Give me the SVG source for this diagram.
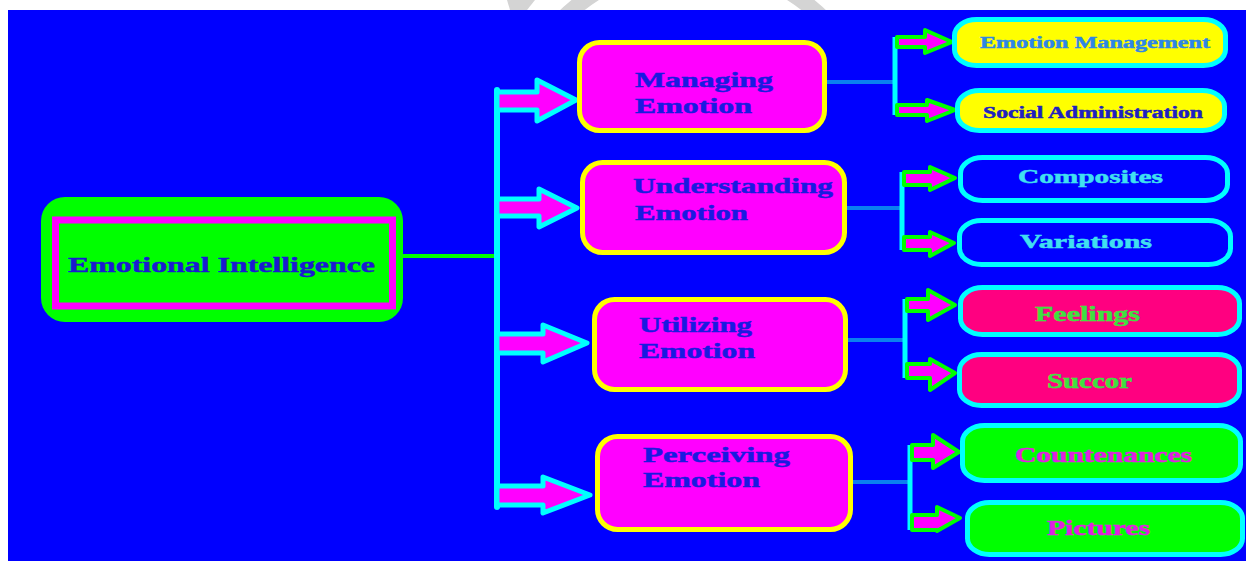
<svg xmlns="http://www.w3.org/2000/svg" width="1246" height="561" viewBox="0 0 1246 561">
<style>
text{font-family:"Liberation Serif","Times New Roman",serif;font-weight:bold;stroke-width:0.5}
.mid{fill:#FF00FF;stroke:#FFFF00;stroke-width:5}
.midt{font-size:22px;fill:#1A1AE0;stroke:#1A1AE0}
.leaf{stroke:#00FFFF;stroke-width:5}
.big{fill:#FF00FF;stroke:#00FFFF;stroke-width:5;stroke-linejoin:round}
.small{fill:#FF00FF;stroke:#00FF00;stroke-width:4;stroke-linejoin:round}
.bl{stroke:#0A80F0;stroke-width:4;fill:none}
.cy{stroke:#00FFFF;stroke-width:5;fill:none}
</style>
<rect x="0" y="0" width="1246" height="561" fill="#FFFFFF"/>
<g id="watermark" fill="#D4D4D4">
<polygon points="507,0 535,0 527,10 510,10"/>
<circle cx="693" cy="150" r="185" fill="none" stroke="#D4D4D4" stroke-width="16"/>
</g>
<rect x="8" y="10" width="1238" height="551" fill="#0000FF"/>
<g id="connectors">
<line x1="403" y1="256" x2="497" y2="256" stroke="#00FF00" stroke-width="4"/>
<line x1="497" y1="90" x2="497" y2="507" stroke="#00FFFF" stroke-width="6" stroke-linecap="round"/>
<polygon class="big" points="497,92 537,92 537,80 576,100 537,121 537,110 497,110"/>
<polygon class="big" points="497,199 539,199 539,189 577,208 539,227 539,216 497,216"/>
<polygon class="big" points="497,334 543,334 543,325 587,343 543,362 543,353 497,353"/>
<polygon class="big" points="497,486 543,486 543,477 590,495 543,513 543,505 497,505"/>
<line class="bl" x1="827" y1="82" x2="895" y2="82"/>
<line class="bl" x1="847" y1="208" x2="902" y2="208"/>
<line class="bl" x1="848" y1="340" x2="905" y2="340"/>
<line class="bl" x1="853" y1="482" x2="910" y2="482"/>
<line class="cy" x1="895" y1="37" x2="895" y2="115"/>
<line class="cy" x1="902" y1="172" x2="902" y2="250"/>
<line class="cy" x1="905" y1="299" x2="905" y2="378"/>
<line class="cy" x1="910" y1="445" x2="910" y2="530"/>
<polygon class="small" points="897,37 925,37 925,30 952,42 925,53 925,47 897,47"/>
<polygon class="small" points="897,105 927,105 927,100 955,110 927,121 927,115 897,115"/>
<polygon class="small" points="904,172 930,172 930,167 955,178 930,190 930,185 904,185"/>
<polygon class="small" points="904,237 930,237 930,232 954,243 930,256 930,250 904,250"/>
<polygon class="small" points="907,299 928,299 928,290 955,305 928,320 928,311 907,311"/>
<polygon class="small" points="907,364 930,364 930,359 955,373 930,390 930,378 907,378"/>
<polygon class="small" points="912,445 933,445 933,435 959,452 933,468 933,460 912,460"/>
<polygon class="small" points="912,515 937,515 937,507 960,518 937,531 937,530 912,530"/>
</g>
<g id="emotional-intelligence">
<rect x="41" y="197" width="362" height="125" rx="24" fill="#00FF00"/>
<rect x="55.5" y="220" width="337" height="86" fill="none" stroke="#FF00FF" stroke-width="7"/>
<text x="68" y="272" font-size="22" fill="#1A1AD0" stroke="#1A1AD0" textLength="307" lengthAdjust="spacingAndGlyphs">Emotional Intelligence</text>
</g>
<g id="managing">
<rect class="mid" x="579.5" y="42.5" width="245" height="88" rx="20"/>
<text class="midt" x="635" y="87" textLength="138" lengthAdjust="spacingAndGlyphs">Managing</text>
<text class="midt" x="635" y="113" textLength="117" lengthAdjust="spacingAndGlyphs">Emotion</text>
</g>
<g id="understanding">
<rect class="mid" x="582.5" y="162.5" width="262" height="90" rx="20"/>
<text class="midt" x="633" y="193" textLength="200" lengthAdjust="spacingAndGlyphs">Understanding</text>
<text class="midt" x="635" y="220" textLength="113" lengthAdjust="spacingAndGlyphs">Emotion</text>
</g>
<g id="utilizing">
<rect class="mid" x="594.5" y="299.5" width="251" height="90" rx="20"/>
<text class="midt" x="639" y="332" textLength="113" lengthAdjust="spacingAndGlyphs">Utilizing</text>
<text class="midt" x="639" y="358" textLength="116" lengthAdjust="spacingAndGlyphs">Emotion</text>
</g>
<g id="perceiving">
<rect class="mid" x="597.5" y="436.5" width="253" height="93" rx="20"/>
<text class="midt" x="643" y="462" textLength="147" lengthAdjust="spacingAndGlyphs">Perceiving</text>
<text class="midt" x="643" y="487" textLength="117" lengthAdjust="spacingAndGlyphs">Emotion</text>
</g>
<g id="emotion-management">
<rect class="leaf" x="954.5" y="19.5" width="271" height="46" rx="22" ry="16" fill="#FFFF00"/>
<text x="980" y="48" font-size="17" fill="#2E86E6" stroke="#2E86E6" textLength="230" lengthAdjust="spacingAndGlyphs">Emotion Management</text>
</g>
<g id="social-administration">
<rect class="leaf" x="957.5" y="90.5" width="267" height="40" rx="22" ry="16" fill="#FFFF00"/>
<text x="983" y="118" font-size="17" fill="#2020C0" stroke="#2020C0" textLength="220" lengthAdjust="spacingAndGlyphs">Social Administration</text>
</g>
<g id="composites">
<rect class="leaf" x="960.5" y="157.5" width="267" height="43" rx="22" ry="16" fill="#0000FF"/>
<text x="1018" y="183" font-size="19" fill="#40E0F0" stroke="#40E0F0" textLength="145" lengthAdjust="spacingAndGlyphs">Composites</text>
</g>
<g id="variations">
<rect class="leaf" x="959.5" y="220.5" width="271" height="44" rx="22" ry="16" fill="#0000FF"/>
<text x="1020" y="248" font-size="19" fill="#40E0F0" stroke="#40E0F0" textLength="132" lengthAdjust="spacingAndGlyphs">Variations</text>
</g>
<g id="feelings">
<rect class="leaf" x="960.5" y="287.5" width="279" height="47" rx="22" ry="16" fill="#FF0080"/>
<text x="1035" y="321" font-size="20" fill="#40E040" stroke="#40E040" textLength="105" lengthAdjust="spacingAndGlyphs">Feelings</text>
</g>
<g id="succor">
<rect class="leaf" x="959.5" y="354.5" width="280" height="51" rx="22" ry="16" fill="#FF0080"/>
<text x="1047" y="388" font-size="20" fill="#40E040" stroke="#40E040" textLength="85" lengthAdjust="spacingAndGlyphs">Succor</text>
</g>
<g id="countenances">
<rect class="leaf" x="962.5" y="425.5" width="278" height="55" rx="22" ry="16" fill="#00FF00"/>
<text x="1015" y="462" font-size="20" fill="#E020E0" stroke="#E020E0" textLength="177" lengthAdjust="spacingAndGlyphs">Countenances</text>
</g>
<g id="pictures">
<rect class="leaf" x="967.5" y="502.5" width="275" height="52" rx="22" ry="16" fill="#00FF00"/>
<text x="1047" y="535" font-size="20" fill="#E020E0" stroke="#E020E0" textLength="103" lengthAdjust="spacingAndGlyphs">Pictures</text>
</g>
</svg>
